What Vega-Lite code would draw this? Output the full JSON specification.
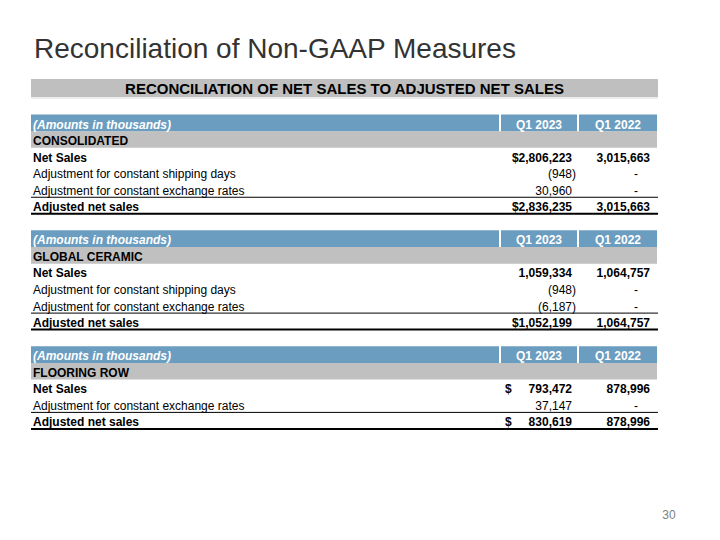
{
  "$schema": "https://vega.github.io/schema/vega-lite/v6.json",
  "width": 720,
  "height": 540,
  "padding": 0,
  "autosize": {"type": "fit", "contains": "padding"},
  "config": {"view": {"stroke": null}, "text": {"font": "Liberation Sans"}},
  "data": {"values": [
    {"line": -3.93, "kind": "title", "label": "Reconciliation of Non-GAAP Measures"},
    {"line": -2.115, "kind": "banner", "label": "RECONCILIATION OF NET SALES TO ADJUSTED NET SALES"},
    {"line": 0, "kind": "header", "label": "(Amounts in thousands)", "a": "Q1 2023", "b": "Q1 2022"},
    {"line": 1, "kind": "section", "label": "CONSOLIDATED"},
    {"line": 2, "kind": "bold", "label": "Net Sales", "a": "$2,806,223", "b": "3,015,663"},
    {"line": 3, "kind": "item", "label": "Adjustment for constant shipping days", "a": "(948)", "b": "-"},
    {"line": 4, "kind": "item", "label": "Adjustment for constant exchange rates", "a": "30,960", "b": "-"},
    {"line": 5, "kind": "total", "label": "Adjusted net sales", "a": "$2,836,235", "b": "3,015,663"},
    {"line": 7, "kind": "header", "label": "(Amounts in thousands)", "a": "Q1 2023", "b": "Q1 2022"},
    {"line": 8, "kind": "section", "label": "GLOBAL CERAMIC"},
    {"line": 9, "kind": "bold", "label": "Net Sales", "a": "1,059,334", "b": "1,064,757"},
    {"line": 10, "kind": "item", "label": "Adjustment for constant shipping days", "a": "(948)", "b": "-"},
    {"line": 11, "kind": "item", "label": "Adjustment for constant exchange rates", "a": "(6,187)", "b": "-"},
    {"line": 12, "kind": "total", "label": "Adjusted net sales", "a": "$1,052,199", "b": "1,064,757"},
    {"line": 14, "kind": "header", "label": "(Amounts in thousands)", "a": "Q1 2023", "b": "Q1 2022"},
    {"line": 15, "kind": "section", "label": "FLOORING ROW"},
    {"line": 16, "kind": "bold", "label": "Net Sales", "cur": "$", "a": "793,472", "b": "878,996"},
    {"line": 17, "kind": "item", "label": "Adjustment for constant exchange rates", "a": "37,147", "b": "-"},
    {"line": 18, "kind": "total", "label": "Adjusted net sales", "cur": "$", "a": "830,619", "b": "878,996"},
    {"line": 23.69, "kind": "page", "label": "30"}
  ]},
  "encoding": {
    "y": {"field": "line", "type": "quantitative", "scale": {"domain": [-7.432, 25.196], "reverse": true, "nice": false, "zero": false}, "axis": null}
  },
  "layer": [
    {
      "transform": [{"filter": "datum.kind == 'banner'"}],
      "mark": {"type": "rule", "color": "#BFBFBF", "strokeWidth": 18},
      "encoding": {
        "x": {"datum": 31, "type": "quantitative", "scale": {"domain": [0, 720], "nice": false, "zero": false}, "axis": null},
        "x2": {"datum": 658}
      }
    },
    {
      "transform": [{"filter": "datum.kind == 'banner'"}],
      "mark": {"type": "rule", "color": "#DADADA", "strokeWidth": 1, "yOffset": 10},
      "encoding": {"x": {"datum": 31, "type": "quantitative"}, "x2": {"datum": 658}}
    },
    {
      "transform": [{"filter": "datum.kind == 'header'"}],
      "mark": {"type": "rule", "color": "#6B9DC0", "strokeWidth": 17},
      "encoding": {"x": {"datum": 31, "type": "quantitative"}, "x2": {"datum": 499}}
    },
    {
      "transform": [{"filter": "datum.kind == 'header'"}],
      "mark": {"type": "rule", "color": "#6B9DC0", "strokeWidth": 17},
      "encoding": {"x": {"datum": 501, "type": "quantitative"}, "x2": {"datum": 577}}
    },
    {
      "transform": [{"filter": "datum.kind == 'header'"}],
      "mark": {"type": "rule", "color": "#6B9DC0", "strokeWidth": 17},
      "encoding": {"x": {"datum": 579, "type": "quantitative"}, "x2": {"datum": 657}}
    },
    {
      "transform": [{"filter": "datum.kind == 'section'"}],
      "mark": {"type": "rule", "color": "#C0C0C0", "strokeWidth": 16.6},
      "encoding": {"x": {"datum": 31, "type": "quantitative"}, "x2": {"datum": 657}}
    },
    {
      "transform": [{"filter": "datum.kind == 'total'"}],
      "mark": {"type": "rule", "color": "#000000", "strokeWidth": 1, "yOffset": -8.5},
      "encoding": {"x": {"datum": 31, "type": "quantitative"}, "x2": {"datum": 658}}
    },
    {
      "transform": [{"filter": "datum.kind == 'total'"}],
      "mark": {"type": "rule", "color": "#000000", "strokeWidth": 2, "yOffset": 8},
      "encoding": {"x": {"datum": 31, "type": "quantitative"}, "x2": {"datum": 658}}
    },
    {
      "transform": [{"filter": "datum.kind == 'title'"}],
      "mark": {"type": "text", "fontSize": 28, "color": "#333333", "align": "left", "baseline": "alphabetic"},
      "encoding": {"x": {"datum": 34, "type": "quantitative"}, "text": {"field": "label"}}
    },
    {
      "transform": [{"filter": "datum.kind == 'banner'"}],
      "mark": {"type": "text", "fontSize": 15, "fontWeight": "bold", "color": "#000000", "align": "center", "baseline": "middle", "dy": 1},
      "encoding": {"x": {"datum": 344.5, "type": "quantitative"}, "text": {"field": "label"}}
    },
    {
      "transform": [{"filter": "datum.kind == 'header'"}],
      "mark": {"type": "text", "fontSize": 12, "fontWeight": "bold", "fontStyle": "italic", "color": "#FFFFFF", "align": "left", "baseline": "middle", "dy": 1.5},
      "encoding": {"x": {"datum": 33, "type": "quantitative"}, "text": {"field": "label"}}
    },
    {
      "transform": [{"filter": "datum.kind == 'header'"}],
      "mark": {"type": "text", "fontSize": 12, "fontWeight": "bold", "color": "#FFFFFF", "align": "center", "baseline": "middle", "dy": 1.5},
      "encoding": {"x": {"datum": 539, "type": "quantitative"}, "text": {"field": "a"}}
    },
    {
      "transform": [{"filter": "datum.kind == 'header'"}],
      "mark": {"type": "text", "fontSize": 12, "fontWeight": "bold", "color": "#FFFFFF", "align": "center", "baseline": "middle", "dy": 1.5},
      "encoding": {"x": {"datum": 618, "type": "quantitative"}, "text": {"field": "b"}}
    },
    {
      "transform": [{"filter": "datum.kind == 'section' || datum.kind == 'bold' || datum.kind == 'total'"}],
      "mark": {"type": "text", "fontSize": 12, "fontWeight": "bold", "color": "#000000", "align": "left", "baseline": "middle", "dy": 1.5},
      "encoding": {"x": {"datum": 33, "type": "quantitative"}, "text": {"field": "label"}}
    },
    {
      "transform": [{"filter": "datum.kind == 'item'"}],
      "mark": {"type": "text", "fontSize": 12, "color": "#000000", "align": "left", "baseline": "middle", "dy": 1.5},
      "encoding": {"x": {"datum": 33, "type": "quantitative"}, "text": {"field": "label"}}
    },
    {
      "transform": [{"filter": "datum.kind == 'bold' || datum.kind == 'total'"}],
      "mark": {"type": "text", "fontSize": 12, "fontWeight": "bold", "color": "#000000", "align": "right", "baseline": "middle", "dy": 1.5},
      "encoding": {"x": {"datum": 572, "type": "quantitative"}, "text": {"field": "a"}}
    },
    {
      "transform": [{"filter": "datum.kind == 'bold' || datum.kind == 'total'"}],
      "mark": {"type": "text", "fontSize": 12, "fontWeight": "bold", "color": "#000000", "align": "right", "baseline": "middle", "dy": 1.5},
      "encoding": {"x": {"datum": 650, "type": "quantitative"}, "text": {"field": "b"}}
    },
    {
      "transform": [{"filter": "datum.cur"}],
      "mark": {"type": "text", "fontSize": 12, "fontWeight": "bold", "color": "#000000", "align": "left", "baseline": "middle", "dy": 1.5},
      "encoding": {"x": {"datum": 505, "type": "quantitative"}, "text": {"field": "cur"}}
    },
    {
      "transform": [{"filter": "datum.kind == 'item' && indexof(datum.a, '(') < 0"}],
      "mark": {"type": "text", "fontSize": 12, "color": "#000000", "align": "right", "baseline": "middle", "dy": 1.5},
      "encoding": {"x": {"datum": 572, "type": "quantitative"}, "text": {"field": "a"}}
    },
    {
      "transform": [{"filter": "datum.kind == 'item' && indexof(datum.a, '(') >= 0"}],
      "mark": {"type": "text", "fontSize": 12, "color": "#000000", "align": "right", "baseline": "middle", "dy": 1.5},
      "encoding": {"x": {"datum": 576, "type": "quantitative"}, "text": {"field": "a"}}
    },
    {
      "transform": [{"filter": "datum.kind == 'item'"}],
      "mark": {"type": "text", "fontSize": 12, "color": "#000000", "align": "right", "baseline": "middle", "dy": 1.5},
      "encoding": {"x": {"datum": 638, "type": "quantitative"}, "text": {"field": "b"}}
    },
    {
      "transform": [{"filter": "datum.kind == 'page'"}],
      "mark": {"type": "text", "fontSize": 12, "color": "#7F7F7F", "align": "center", "baseline": "middle"},
      "encoding": {"x": {"datum": 669, "type": "quantitative"}, "text": {"field": "label"}}
    }
  ]
}
